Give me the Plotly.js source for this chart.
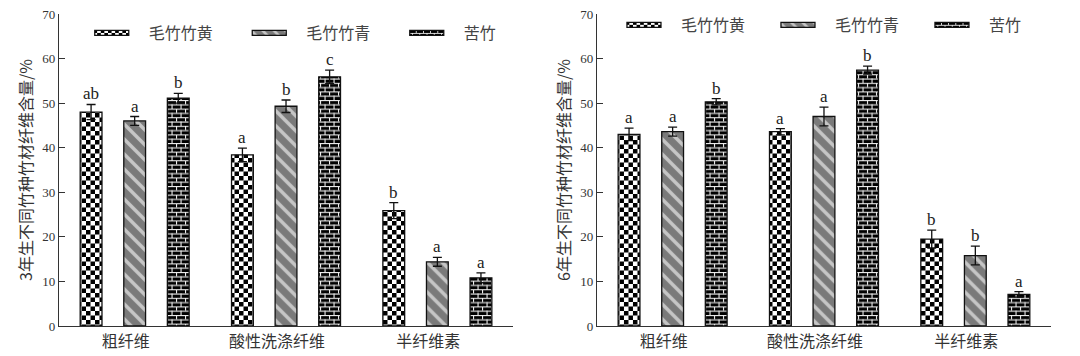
<!DOCTYPE html>
<html><head><meta charset="utf-8">
<script src="https://cdn.plot.ly/plotly-3.0.1.min.js"></script>
<style>html,body{margin:0;padding:0;background:#fff;} #chart{width:1080px;height:356px;}</style>
</head><body><div id="chart"></div>
<script>
// ---- data ----
const categories = ['粗纤维', '酸性洗涤纤维', '半纤维素'];
const seriesNames = ['毛竹竹黄', '毛竹竹青', '苦竹'];

// 3-year-old bamboo
const y3_huang = [48.0, 38.4, 25.9];
const y3_qing  = [46.0, 49.3, 14.4];
const y3_ku    = [51.1, 55.9, 10.8];
const e3_huang = [1.7, 1.5, 1.8];
const e3_qing  = [1.0, 1.4, 1.0];
const e3_ku    = [1.1, 1.5, 1.1];
const l3_huang = ['ab', 'a', 'b'];
const l3_qing  = ['a', 'b', 'a'];
const l3_ku    = ['b', 'c', 'a'];

// 6-year-old bamboo
const y6_huang = [43.0, 43.6, 19.5];
const y6_qing  = [43.6, 47.0, 15.8];
const y6_ku    = [50.3, 57.4, 7.1];
const e6_huang = [1.4, 0.7, 2.0];
const e6_qing  = [1.0, 2.1, 2.1];
const e6_ku    = [0.7, 0.9, 0.6];
const l6_huang = ['a', 'a', 'b'];
const l6_qing  = ['a', 'a', 'b'];
const l6_ku    = ['b', 'b', 'a'];

const yTitle3 = '3年生不同竹种竹材纤维含量/%';
const yTitle6 = '6年生不同竹种竹材纤维含量/%';
const yTicks = [0, 10, 20, 30, 40, 50, 60, 70];

// ---- styling ----
const BARGAP = 0.136;
const patterns = [
  {shape: '+', size: 9, solidity: 0.5, fgcolor: '#000', bgcolor: '#fff', fgopacity: 1},
  {shape: '\\', size: 10.6, solidity: 0.33, fgcolor: '#c6c6c6', bgcolor: '#7a7a7a', fgopacity: 1},
  {shape: '-', size: 4.5, solidity: 0.25, fgcolor: '#fff', bgcolor: '#000', fgopacity: 1}
];

const panels = [
  {xa: 'x', ya: 'y', leg: 'legend', vals: [y3_huang, y3_qing, y3_ku], errs: [e3_huang, e3_qing, e3_ku], labs: [l3_huang, l3_qing, l3_ku]},
  {xa: 'x2', ya: 'y2', leg: 'legend2', vals: [y6_huang, y6_qing, y6_ku], errs: [e6_huang, e6_qing, e6_ku], labs: [l6_huang, l6_qing, l6_ku]}
];

const traces = [];
const annotations = [];
const slot = (1 - BARGAP) / 3;
panels.forEach(p => {
  seriesNames.forEach((name, si) => {
    traces.push({
      type: 'bar', name: name, x: categories, y: p.vals[si],
      xaxis: p.xa, yaxis: p.ya, legend: p.leg,
      marker: {color: patterns[si].bgcolor, pattern: patterns[si], line: {color: '#111', width: 1.3}},
      error_y: {type: 'data', array: p.errs[si], visible: true, color: '#111', thickness: 1.3, width: 4.5},
      hoverinfo: 'skip'
    });
    categories.forEach((c, gi) => {
      annotations.push({
        xref: p.xa, yref: p.ya,
        x: gi + (si - 1) * slot, y: p.vals[si][gi] + p.errs[si][gi],
        text: p.labs[si][gi], showarrow: false, yanchor: 'bottom', yshift: -1,
        font: {family: 'Liberation Serif, serif', size: 17, color: '#222'}
      });
    });
  });
});

const yAxisBase = {
  range: [0, 70], tickvals: yTicks, ticks: 'inside', ticklen: 6, tickwidth: 1.2, tickcolor: '#333',
  showline: true, linecolor: '#333', linewidth: 1.2, showgrid: false, zeroline: false,
  tickfont: {family: 'Liberation Serif, serif', size: 13, color: '#333'},
  ticklabelstandoff: 0, fixedrange: true
};
const xAxisBase = {
  type: 'category', range: [-0.5, 2.5], showline: true, linecolor: '#333', linewidth: 1.2,
  ticks: '', showgrid: false, zeroline: false, ticklabelshift: -9, ticklabelstandoff: 1,
  tickfont: {family: 'Noto Sans CJK SC, sans-serif', size: 16, color: '#333'}, fixedrange: true
};
const legBase = {
  orientation: 'h', xanchor: 'left', yanchor: 'middle', bgcolor: 'rgba(0,0,0,0)',
  font: {family: 'Noto Sans CJK SC, sans-serif', size: 16, color: '#444'},
  itemwidth: 50, entrywidthmode: 'pixels', traceorder: 'normal'
};
const titleFont = {family: 'Noto Sans CJK SC, sans-serif', size: 16, color: '#333'};

const layout = {
  width: 1080, height: 356,
  margin: {l: 59, r: 29, t: 14, b: 30, autoexpand: false},
  paper_bgcolor: '#fff', plot_bgcolor: 'rgba(0,0,0,0)',
  barmode: 'group', bargap: BARGAP, bargroupgap: 0.5,
  showlegend: true,
  xaxis: Object.assign({}, xAxisBase, {domain: [0, 0.4577], anchor: 'y'}),
  xaxis2: Object.assign({}, xAxisBase, {domain: [0.5423, 1], anchor: 'y2'}),
  yaxis: Object.assign({}, yAxisBase, {anchor: 'x', title: {text: yTitle3, standoff: 5, font: titleFont}}),
  yaxis2: Object.assign({}, yAxisBase, {anchor: 'x2', title: {text: yTitle6, standoff: 5, font: titleFont}}),
  legend: Object.assign({}, legBase, {x: 0.03, y: 0.939, entrywidth: 92.5}),
  legend2: Object.assign({}, legBase, {x: 0.5665, y: 0.965, entrywidth: 89}),
  annotations: annotations
};

function refine(gd) {
  const NS = 'http://www.w3.org/2000/svg';
  function rect(p, x, y, w, h, fill) {
    const r = document.createElementNS(NS, 'rect');
    r.setAttribute('x', x); r.setAttribute('y', y);
    r.setAttribute('width', w); r.setAttribute('height', h);
    r.setAttribute('fill', fill);
    p.appendChild(r);
  }
  gd.querySelectorAll('pattern').forEach(p => {
    if (p.getAttribute('data-refined')) return;
    const w = parseFloat(p.getAttribute('width'));
    if (Math.abs(w - 9) < 0.01) {
      while (p.firstChild) p.removeChild(p.firstChild);
      rect(p, 0, 0, 9, 9, '#fff');
      rect(p, 0, 0, 4.5, 4.5, '#000');
      rect(p, 4.5, 4.5, 4.5, 4.5, '#000');
      p.setAttribute('data-refined', '1');
    } else if (Math.abs(w - 4.5) < 0.01) {
      while (p.firstChild) p.removeChild(p.firstChild);
      p.setAttribute('width', '9px'); p.setAttribute('height', '8.6px');
      rect(p, 0, 0, 9, 8.6, '#000');
      rect(p, 0, 0, 9, 1.1, '#eee');
      rect(p, 0, 4.3, 9, 1.1, '#eee');
      rect(p, 0, 0, 1.1, 4.3, '#eee');
      rect(p, 4.5, 4.3, 1.1, 4.3, '#eee');
      p.setAttribute('data-refined', '1');
    }
  });
  gd.querySelectorAll('g.legendpoints path').forEach(pth => pth.setAttribute('d', 'M-24,2.5H10V-2.5H-24Z'));
}

Plotly.newPlot('chart', traces, layout, {displayModeBar: false, staticPlot: true}).then(gd => {
  refine(gd);
  gd.on && gd.on('plotly_afterplot', () => refine(gd));
  setTimeout(() => refine(gd), 50);
});
</script>
</body></html>
